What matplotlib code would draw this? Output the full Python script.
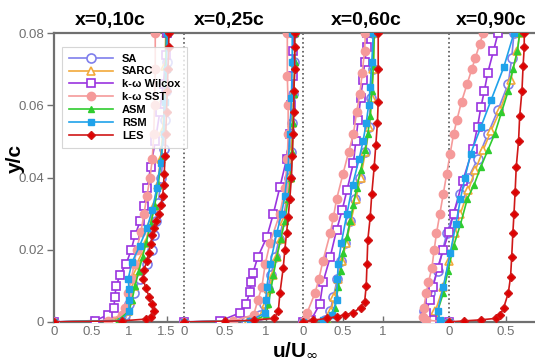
import matplotlib.pyplot as plt

plt.rcParams['font.family'] = ['Liberation Sans', 'DejaVu Sans']

# Perfiles de velocidad u/U en cuatro estaciones x/c
titulos = ["x=0,10c", "x=0,25c", "x=0,60c", "x=0,90c"]
modelos = ["SA", "SARC", "k-ω Wilcox", "k-ω SST", "ASM", "RSM", "LES"]

# cada entrada: (y/c, u/U)
perfil_010 = {
    "SA": ([0, 0.0004, 0.002, 0.005, 0.008, 0.012, 0.016, 0.020, 0.024, 0.028, 0.033, 0.040, 0.048, 0.056, 0.064, 0.072, 0.080],
           [0, 0.75, 0.95, 1.0, 1.06, 1.15, 1.24, 1.30, 1.33, 1.36, 1.39, 1.43, 1.46, 1.48, 1.49, 1.50, 1.51]),
    "SARC": ([0, 0.0004, 0.003, 0.006, 0.010, 0.014, 0.018, 0.022, 0.027, 0.032, 0.038, 0.045, 0.053, 0.062, 0.071, 0.080],
             [0, 0.8, 0.98, 1.02, 1.06, 1.11, 1.17, 1.22, 1.28, 1.33, 1.38, 1.42, 1.45, 1.47, 1.48, 1.49]),
    "k-ω Wilcox": ([0, 0.0004, 0.002, 0.004, 0.007, 0.010, 0.013, 0.016, 0.020, 0.024, 0.028, 0.032, 0.037, 0.043, 0.050, 0.058, 0.066, 0.074, 0.080],
                   [0, 0.55, 0.72, 0.80, 0.81, 0.83, 0.88, 0.96, 1.03, 1.08, 1.15, 1.20, 1.24, 1.29, 1.35, 1.41, 1.46, 1.49, 1.50]),
    "k-ω SST": ([0, 0.0004, 0.002, 0.004, 0.008, 0.012, 0.016, 0.020, 0.025, 0.030, 0.035, 0.040, 0.045, 0.052, 0.060, 0.070, 0.080],
                [0, 0.72, 0.9, 0.95, 0.99, 1.03, 1.07, 1.10, 1.16, 1.20, 1.24, 1.28, 1.31, 1.33, 1.34, 1.35, 1.35]),
    "ASM": ([0, 0.0004, 0.003, 0.006, 0.010, 0.014, 0.018, 0.022, 0.027, 0.032, 0.038, 0.045, 0.053, 0.062, 0.071, 0.080],
            [0, 0.85, 1.0, 1.04, 1.08, 1.13, 1.18, 1.23, 1.29, 1.34, 1.39, 1.43, 1.46, 1.48, 1.49, 1.50]),
    "RSM": ([0, 0.0004, 0.003, 0.006, 0.009, 0.012, 0.0165, 0.021, 0.026, 0.031, 0.037, 0.044, 0.052, 0.061, 0.070, 0.080],
            [0, 0.9, 1.0, 1.0, 1.0, 0.99, 1.04, 1.14, 1.24, 1.31, 1.37, 1.42, 1.46, 1.48, 1.50, 1.51]),
    "LES": ([0, 0.0003, 0.0008, 0.0015, 0.003, 0.005, 0.007, 0.0095, 0.012, 0.0145, 0.017, 0.019, 0.0215, 0.024, 0.026, 0.028,
             0.030, 0.0325, 0.035, 0.038, 0.041, 0.046, 0.052, 0.058, 0.064, 0.070, 0.076, 0.080],
            [0, 0.9, 1.22, 1.29, 1.33, 1.30, 1.27, 1.22, 1.19, 1.20, 1.24, 1.26, 1.29, 1.31, 1.33, 1.36,
             1.40, 1.43, 1.45, 1.46, 1.47, 1.48, 1.49, 1.50, 1.51, 1.52, 1.53, 1.53]),
}

perfil_025 = {
    "SA": ([0, 0.0003, 0.002, 0.005, 0.009, 0.013, 0.018, 0.023, 0.028, 0.034, 0.040, 0.047, 0.055, 0.063, 0.072, 0.080],
           [0, 0.75, 0.93, 0.98, 1.02, 1.06, 1.11, 1.16, 1.21, 1.25, 1.28, 1.30, 1.32, 1.33, 1.34, 1.34]),
    "SARC": ([0, 0.0003, 0.002, 0.005, 0.009, 0.013, 0.018, 0.023, 0.028, 0.034, 0.040, 0.047, 0.055, 0.063, 0.072, 0.080],
             [0, 0.78, 0.95, 1.0, 1.04, 1.08, 1.13, 1.18, 1.22, 1.26, 1.29, 1.31, 1.32, 1.33, 1.34, 1.34]),
    "k-ω Wilcox": ([0, 0.0003, 0.0025, 0.005, 0.0083, 0.011, 0.0135, 0.018, 0.0235, 0.030, 0.0374, 0.045, 0.052, 0.060, 0.068, 0.075, 0.080],
                   [0, 0.44, 0.68, 0.76, 0.80, 0.82, 0.84, 0.90, 1.01, 1.09, 1.17, 1.25, 1.29, 1.31, 1.33, 1.33, 1.33]),
    "k-ω SST": ([0, 0.0003, 0.002, 0.006, 0.0097, 0.016, 0.022, 0.030, 0.037, 0.045, 0.052, 0.060, 0.068, 0.080],
                [0, 0.6, 0.85, 0.90, 0.95, 0.99, 1.05, 1.17, 1.23, 1.26, 1.27, 1.27, 1.26, 1.26]),
    "ASM": ([0, 0.0003, 0.002, 0.005, 0.009, 0.013, 0.018, 0.023, 0.028, 0.034, 0.040, 0.047, 0.055, 0.063, 0.072, 0.080],
            [0, 0.85, 1.0, 1.03, 1.06, 1.09, 1.13, 1.18, 1.23, 1.27, 1.30, 1.32, 1.33, 1.34, 1.35, 1.35]),
    "RSM": ([0, 0.0003, 0.0025, 0.006, 0.0097, 0.016, 0.0245, 0.030, 0.035, 0.043, 0.052, 0.062, 0.072, 0.080],
            [0, 0.8, 0.99, 1.0, 1.01, 1.05, 1.13, 1.19, 1.23, 1.27, 1.29, 1.31, 1.32, 1.32]),
    "LES": ([0, 0.0002, 0.0005, 0.001, 0.003, 0.008, 0.015, 0.020, 0.0245, 0.029, 0.034, 0.040, 0.046, 0.052, 0.058, 0.064, 0.070, 0.076, 0.080],
            [0, 0.5, 0.85, 1.1, 1.15, 1.17, 1.21, 1.23, 1.25, 1.27, 1.29, 1.31, 1.32, 1.33, 1.34, 1.34, 1.35, 1.35, 1.35]),
}

perfil_060 = {
    "SA": ([0, 0.0005, 0.003, 0.007, 0.012, 0.017, 0.022, 0.028, 0.034, 0.040, 0.047, 0.054, 0.062, 0.070, 0.080],
           [0, 0.28, 0.34, 0.38, 0.43, 0.48, 0.53, 0.59, 0.65, 0.71, 0.77, 0.82, 0.85, 0.87, 0.88]),
    "SARC": ([0, 0.0005, 0.003, 0.007, 0.012, 0.017, 0.022, 0.028, 0.034, 0.040, 0.047, 0.054, 0.062, 0.070, 0.080],
             [0, 0.3, 0.35, 0.39, 0.44, 0.49, 0.54, 0.60, 0.66, 0.72, 0.78, 0.83, 0.86, 0.88, 0.89]),
    "k-ω Wilcox": ([0, 0.0005, 0.005, 0.011, 0.018, 0.0255, 0.031, 0.0365, 0.044, 0.050, 0.056, 0.062, 0.067, 0.072, 0.076, 0.080],
                   [0, 0.1, 0.21, 0.25, 0.34, 0.42, 0.49, 0.55, 0.63, 0.66, 0.69, 0.72, 0.75, 0.77, 0.80, 0.80]),
    "k-ω SST": ([0, 0.0005, 0.0025, 0.008, 0.012, 0.017, 0.0245, 0.029, 0.034, 0.041, 0.047, 0.052, 0.058, 0.063, 0.069, 0.075, 0.080],
                [0, 0.02, 0.05, 0.15, 0.20, 0.25, 0.34, 0.38, 0.42, 0.50, 0.57, 0.63, 0.67, 0.71, 0.74, 0.77, 0.78]),
    "ASM": ([0, 0.0005, 0.004, 0.0097, 0.014, 0.019, 0.0235, 0.028, 0.0325, 0.037, 0.042, 0.0476, 0.052, 0.057, 0.064, 0.071, 0.080],
            [0, 0.3, 0.40, 0.44, 0.47, 0.50, 0.55, 0.59, 0.63, 0.67, 0.72, 0.78, 0.81, 0.84, 0.86, 0.88, 0.89]),
    "RSM": ([0, 0.0005, 0.002, 0.006, 0.012, 0.016, 0.022, 0.030, 0.038, 0.045, 0.050, 0.055, 0.060, 0.065, 0.072, 0.080],
            [0, 0.25, 0.36, 0.42, 0.43, 0.44, 0.48, 0.55, 0.62, 0.70, 0.75, 0.79, 0.82, 0.84, 0.86, 0.88]),
    "LES": ([0, 0.0005, 0.001, 0.0015, 0.002, 0.0025, 0.004, 0.0055, 0.010, 0.016, 0.0227, 0.029, 0.0355, 0.043, 0.049, 0.055, 0.061, 0.070, 0.080],
            [0, 0.12, 0.30, 0.42, 0.52, 0.62, 0.72, 0.77, 0.79, 0.80, 0.81, 0.84, 0.86, 0.89, 0.91, 0.93, 0.94, 0.94, 0.94]),
}

perfil_090 = {
    "SA": ([0, 0.0005, 0.003, 0.008, 0.014, 0.0245, 0.030, 0.0355, 0.040, 0.045, 0.052, 0.0587, 0.066, 0.073, 0.080],
           [0, -0.2, -0.22, -0.17, -0.1, -0.02, 0.04, 0.10, 0.17, 0.25, 0.34, 0.43, 0.52, 0.55, 0.57]),
    "SARC": ([0, 0.0005, 0.003, 0.0097, 0.017, 0.0245, 0.030, 0.0365, 0.042, 0.0476, 0.053, 0.0587, 0.067, 0.075, 0.080],
             [0, -0.1, -0.12, -0.05, 0.0, 0.05, 0.10, 0.17, 0.23, 0.30, 0.37, 0.45, 0.54, 0.60, 0.62]),
    "k-ω Wilcox": ([0, 0.0005, 0.0025, 0.006, 0.0097, 0.015, 0.020, 0.025, 0.030, 0.039, 0.048, 0.054, 0.0595, 0.064, 0.069, 0.075, 0.080],
                   [0, -0.15, -0.2, -0.17, -0.14, -0.1, -0.05, 0.0, 0.04, 0.12, 0.21, 0.25, 0.28, 0.31, 0.34, 0.39, 0.43]),
    "k-ω SST": ([0, 0.0005, 0.0014, 0.004, 0.008, 0.011, 0.015, 0.020, 0.0245, 0.030, 0.0355, 0.041, 0.0466, 0.052, 0.056, 0.061, 0.066, 0.070, 0.073, 0.077, 0.080],
                [0, -0.2, -0.23, -0.22, -0.2, -0.18, -0.15, -0.13, -0.11, -0.08, -0.05, -0.02, 0.01, 0.04, 0.07, 0.11, 0.16, 0.20, 0.23, 0.27, 0.30]),
    "ASM": ([0, 0.0005, 0.003, 0.008, 0.014, 0.021, 0.027, 0.034, 0.038, 0.043, 0.0475, 0.052, 0.058, 0.064, 0.070, 0.075, 0.080],
            [0, -0.08, -0.1, -0.05, -0.01, 0.04, 0.10, 0.16, 0.22, 0.28, 0.34, 0.40, 0.46, 0.52, 0.56, 0.60, 0.62]),
    "RSM": ([0, 0.0005, 0.003, 0.0097, 0.019, 0.027, 0.034, 0.040, 0.0466, 0.054, 0.0615, 0.0705, 0.080],
            [0, -0.08, -0.1, -0.05, 0.01, 0.06, 0.10, 0.14, 0.19, 0.28, 0.37, 0.48, 0.57]),
    "LES": ([0, 0.0003, 0.0006, 0.001, 0.002, 0.004, 0.008, 0.0125, 0.018, 0.0245, 0.030, 0.036, 0.043, 0.050, 0.057, 0.064, 0.071, 0.076, 0.080],
            [0, 0.13, 0.28, 0.41, 0.45, 0.48, 0.52, 0.54, 0.55, 0.56, 0.57, 0.58, 0.59, 0.61, 0.62, 0.64, 0.65, 0.66, 0.66]),
}

perfiles = [perfil_010, perfil_025, perfil_060, perfil_090]
ticks_u = [[0, 0.5, 1, 1.5], [0, 0.5, 1], [0, 0.5, 1], [0, 0.5]]
ticks_y = [0, 0.02, 0.04, 0.06, 0.08]

# posicion del cero y escala (pixeles por unidad) de cada perfil en el eje comun
origen = [0, 130, 249, 395]
escala = [75, 82, 80, 114]

estilos = {
    "SA": dict(color="#7f7fec", marker="o", ms=6.5, mfc="white", mew=1.2),
    "SARC": dict(color="#f2a93b", marker="^", ms=6, mfc="white", mew=1.2),
    "k-ω Wilcox": dict(color="#9a34df", marker="s", ms=5.5, mfc="white", mew=1.2),
    "k-ω SST": dict(color="#f59a9a", marker="o", ms=6),
    "ASM": dict(color="#2fcc2f", marker="^", ms=4.5),
    "RSM": dict(color="#1fa2ea", marker="s", ms=4.5),
    "LES": dict(color="#d01818", marker="D", ms=4.5, mfc="#e00000"),
}

gris = "#707070"

fig = plt.figure(figsize=(5.35, 3.61), dpi=100)
ax = fig.add_axes([54 / 535, 39 / 361, 481 / 535, 289 / 361])

for i, perfil in enumerate(perfiles):
    if i > 0:
        ax.plot([origen[i], origen[i]], [0, 0.08], ls=":", color="#555555", lw=1.2, zorder=1)
    for m in modelos:
        y, u = perfil[m]
        x = [origen[i] + escala[i] * v for v in u]
        ax.plot(x, y, lw=1.2, label=m if i == 0 else None, zorder=3, **estilos[m])

ax.set_xlim(0, 481)
ax.set_ylim(0, 0.08)

xt, xl = [], []
for i, tl in enumerate(ticks_u):
    for t in tl:
        xt.append(origen[i] + escala[i] * t)
        xl.append("0" if t == 0 else f"{t:g}")
ax.set_xticks(xt)
ax.set_xticklabels(xl)
ax.set_yticks(ticks_y)
ax.set_yticklabels(["0" if v == 0 else f"{v:.2f}" for v in ticks_y])

ax.tick_params(axis="x", direction="in", length=4, width=1, colors=gris, labelsize=9.5, pad=3)
ax.tick_params(axis="y", direction="out", length=5, width=1, colors=gris, labelsize=9.5, pad=2)
for lado in ["left", "bottom", "top"]:
    ax.spines[lado].set_color(gris)
    ax.spines[lado].set_linewidth(1.6)
ax.spines["right"].set_visible(False)

leg = ax.legend(loc="upper left", bbox_to_anchor=(0.0166, 0.952), borderaxespad=0,
                frameon=True, fancybox=False, edgecolor="#cccccc",
                handlelength=4.0, handletextpad=0.8, labelspacing=0.26, borderpad=0.6,
                prop={"weight": "bold", "size": 8})
leg.get_frame().set_linewidth(0.8)

centros = [110, 229, 366, 491]
for c, t in zip(centros, titulos):
    fig.text(c / 535, 1 - 20 / 361, t, ha="center", va="center", fontsize=14, fontweight="bold")

fig.text(15 / 535, 1 - 158 / 361, "y/c", rotation=90, ha="center", va="center", fontsize=15, fontweight="bold")
fig.text(272 / 535, 1 - 355 / 361, r"u/U$_{\infty}$", ha="left", va="baseline", fontsize=15, fontweight="bold")

fig.savefig("out.png", dpi=100)
